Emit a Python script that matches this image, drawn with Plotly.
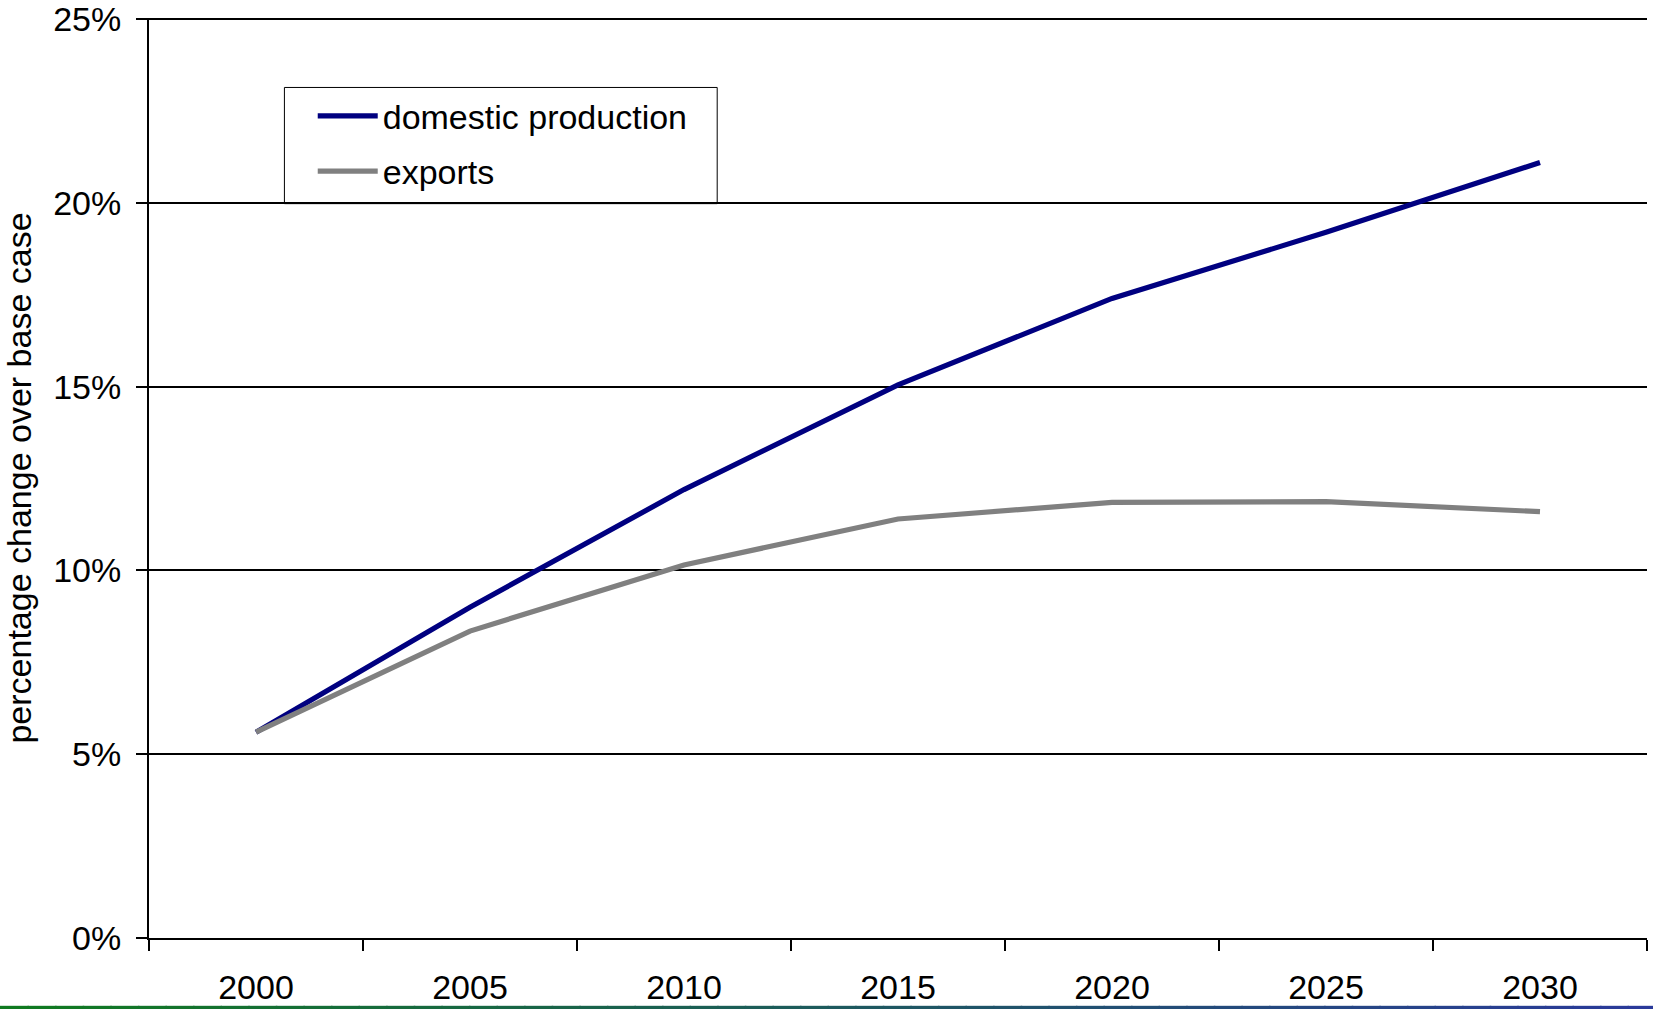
import plotly.graph_objects as go

years = ["2000", "2005", "2010", "2015", "2020", "2025", "2030"]
domestic_production = [5.6, 9.0, 12.2, 15.05, 17.4, 19.2, 21.1]
exports = [5.6, 8.35, 10.15, 11.4, 11.85, 11.87, 11.6]
y_ticks = [0, 5, 10, 15, 20, 25]

FONT = "Liberation Sans, Arial, sans-serif"
FS = 34

fig = go.Figure()
fig.add_trace(go.Scatter(
    x=years, y=domestic_production, mode="lines", name="domestic production",
    legendgroup="a", line=dict(color="#000080", width=5.2),
))
fig.add_trace(go.Scatter(
    x=years, y=exports, mode="lines", name="exports",
    legendgroup="b", line=dict(color="#808080", width=5.2),
))

# legend frame (white box with thin black border)
fig.add_shape(type="rect", xref="paper", yref="paper",
              x0=0.0904, x1=0.3793, y0=0.7982, y1=0.9245,
              line=dict(color="black", width=1), fillcolor="white", layer="below")

# thin gradient strip at the very bottom of the page (decoration)
n = 60
c0 = (16, 122, 32)
c1 = (42, 58, 154)
for i in range(n):
    t = i / (n - 1)
    col = "rgb(%d,%d,%d)" % tuple(int(round(a + (b - a) * t)) for a, b in zip(c0, c1))
    fig.add_shape(type="rect", xref="paper", yref="paper",
                  x0=-0.0995 + i * (1.105 / n), x1=-0.0995 + (i + 1) * (1.105 / n) + 0.001,
                  y0=-0.0774, y1=-0.0737, line=dict(width=0), fillcolor=col, layer="above")

fig.update_layout(
    width=1653, height=1009,
    margin=dict(l=149, r=6, t=18, b=71),
    paper_bgcolor="white", plot_bgcolor="white",
    font=dict(family=FONT, size=FS, color="black"),
    showlegend=True,
    legend=dict(
        x=0.1093, y=0.9247, xanchor="left", yanchor="top",
        bgcolor="rgba(0,0,0,0)", borderwidth=0,
        font=dict(family=FONT, size=FS, color="black"),
        itemwidth=60, tracegroupgap=8,
    ),
    xaxis=dict(
        type="category", range=[-0.5, 6.5], automargin=False,
        showline=True, linecolor="black", linewidth=2,
        ticks="outside", tickson="boundaries", ticklen=11, tickwidth=2, tickcolor="black",
        showgrid=False, zeroline=False,
        tickfont=dict(family=FONT, size=FS, color="black"),
        ticklabelstandoff=18,
    ),
    yaxis=dict(
        range=[0, 25.03], tickvals=y_ticks, ticktext=[f"{v}%" for v in y_ticks],
        automargin=False, ticklabeloverflow="allow",
        showline=True, linecolor="black", linewidth=2,
        ticks="outside", ticklen=11, tickwidth=2, tickcolor="black",
        showgrid=True, gridcolor="black", gridwidth=1.5, zeroline=False,
        tickfont=dict(family=FONT, size=FS, color="black"),
        ticklabelstandoff=8,
        title=dict(text="percentage change over base case", standoff=14,
                   font=dict(family=FONT, size=FS, color="black")),
    ),
)

fig.write_html("out.html", config={"displayModeBar": False},
               post_script="document.body.style.margin='0';")
